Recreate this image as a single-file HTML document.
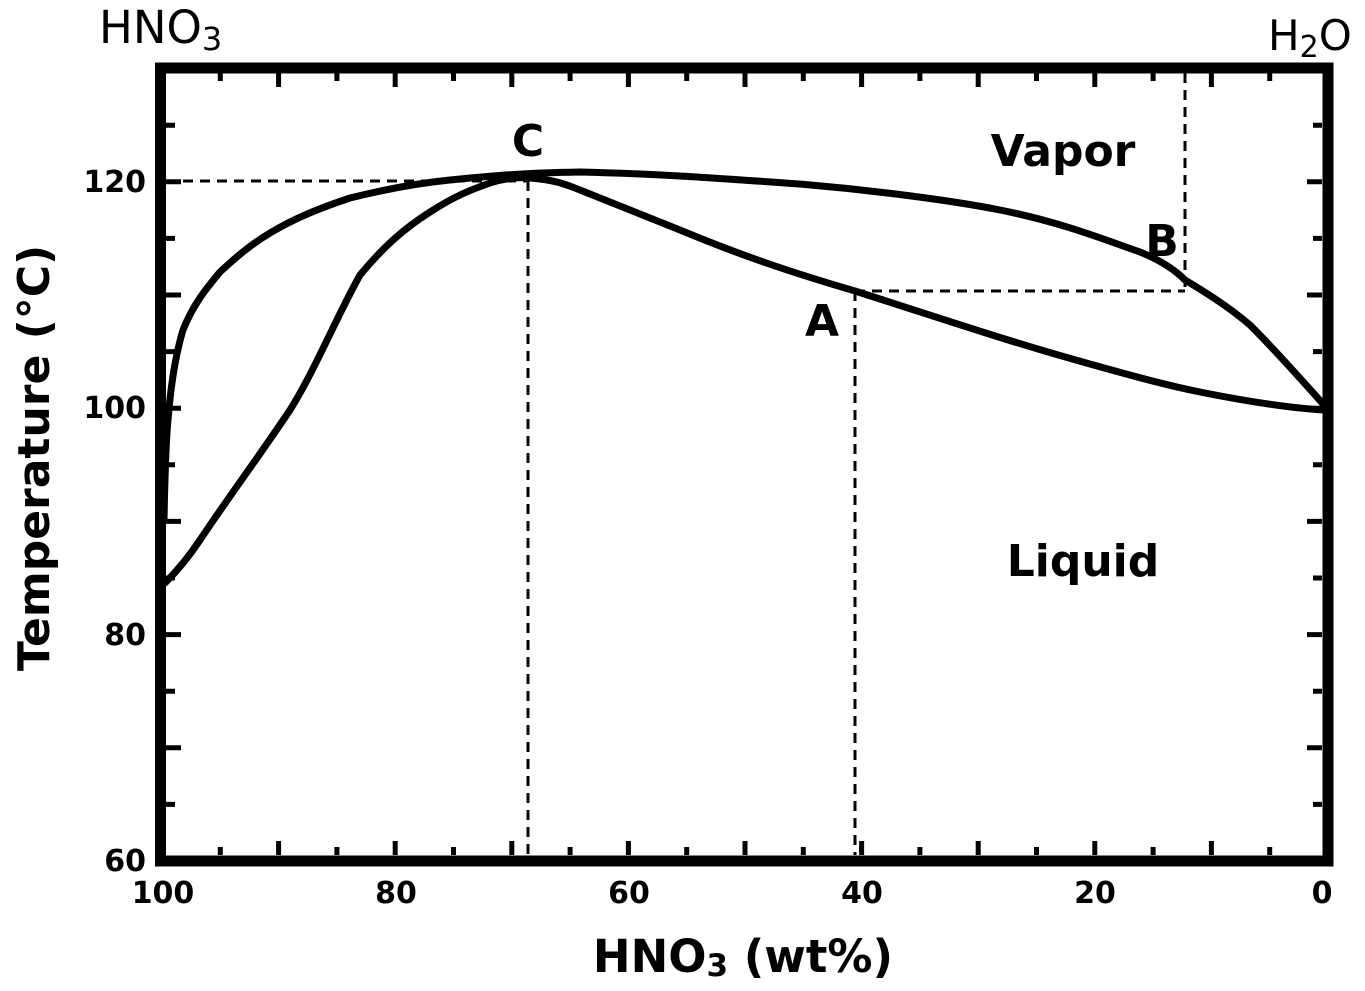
<!DOCTYPE html>
<html><head><meta charset="utf-8"><style>
html,body{margin:0;padding:0;background:#fff;}
svg{display:block;font-family:"DejaVu Sans","Liberation Sans",sans-serif;}
</style></head><body>
<svg width="1365" height="991" viewBox="0 0 1365 991" xmlns="http://www.w3.org/2000/svg">
<g stroke="#000" stroke-width="3" stroke-dasharray="10,7" fill="none">
<line x1="166" y1="181" x2="528" y2="181"/>
<line x1="528" y1="181" x2="528" y2="855"/>
<line x1="855" y1="291" x2="1185" y2="291"/>
<line x1="855" y1="291" x2="855" y2="855"/>
<line x1="1185" y1="73" x2="1185" y2="291"/>
</g>
<g stroke="#000" stroke-width="7" fill="none" stroke-linejoin="round" stroke-linecap="round">
<path d="M165,583 C180,568 190,555 200,540 C230,495 260,455 290,410 C315,370 335,320 360,275 C385,245 405,228 430,212 C455,196 470,190 490,183 C505,178 518,177 530,178 C555,180 565,184 580,190 C615,204 650,218 680,230 C740,255 790,272 855,291 C940,318 1010,342 1090,364 C1140,378 1170,386 1200,392 C1250,402 1290,408 1324,410"/>
<path d="M164,520 C165,470 166,440 168,420 C170,395 174,360 183,330 C193,305 205,290 220,272 C235,258 250,245 270,233 C295,218 320,208 350,198 C390,188 420,183 450,180 C490,176 520,173 580,172 C660,174 700,177 800,184 C870,190 950,200 1000,210 C1060,222 1100,238 1140,252 C1160,260 1175,270 1185,280 C1210,295 1230,308 1250,325 C1275,350 1300,378 1324,405"/>
</g>
<rect x="160.5" y="68" width="1167.5" height="793" fill="none" stroke="#000" stroke-width="11"/>
<path stroke="#000" stroke-width="5" fill="none" d="
M220.3,855v-8M278.6,855v-14M336.9,855v-8M395.2,855v-14M453.5,855v-8M511.8,855v-14M570.1,855v-8M628.4,855v-14M686.7,855v-8M745,855v-14M803.3,855v-8M861.6,855v-14M919.9,855v-8M978.2,855v-14M1036.5,855v-8M1094.8,855v-14M1153.1,855v-8M1211.4,855v-14M1269.7,855v-8
M220.3,73v8M278.6,73v14M336.9,73v8M395.2,73v14M453.5,73v8M511.8,73v14M570.1,73v8M628.4,73v14M686.7,73v8M745,73v14M803.3,73v8M861.6,73v14M919.9,73v8M978.2,73v14M1036.5,73v8M1094.8,73v14M1153.1,73v8M1211.4,73v14M1269.7,73v8
M166,804.4h9M166,747.8h15M166,691.2h9M166,634.6h15M166,578h9M166,521.4h15M166,464.8h9M166,408.2h15M166,351.6h9M166,295h15M166,238.4h9M166,181.8h15M166,125.2h9
M1322,804.4h-9M1322,747.8h-15M1322,691.2h-9M1322,634.6h-15M1322,578h-9M1322,521.4h-15M1322,464.8h-9M1322,408.2h-15M1322,351.6h-9M1322,295h-15M1322,238.4h-9M1322,181.8h-15M1322,125.2h-9"/>
<g font-weight="bold" font-size="30" text-anchor="middle" fill="#000">
<text x="163" y="903">100</text><text x="396" y="903">80</text><text x="629" y="903">60</text><text x="862" y="903">40</text><text x="1095" y="903">20</text><text x="1322" y="903">0</text>
</g>
<g font-weight="bold" font-size="30" text-anchor="end" fill="#000">
<text x="146" y="192">120</text><text x="146" y="418">100</text><text x="146" y="645">80</text><text x="146" y="871">60</text>
</g>
<text x="743" y="972" font-weight="bold" font-size="45" text-anchor="middle">HNO<tspan font-size="31" dy="4">3</tspan><tspan dy="-4"> (wt%)</tspan></text>
<text transform="translate(49,458) rotate(-90)" font-weight="bold" font-size="44" text-anchor="middle">Temperature (°C)</text>
<text x="99" y="43" font-size="45">HNO<tspan font-size="32" dy="7">3</tspan></text>
<text x="1268" y="50" font-size="42">H<tspan font-size="30" dy="7">2</tspan><tspan dy="-7">O</tspan></text>
<g font-weight="bold" font-size="44" text-anchor="middle">
<text x="528" y="156">C</text><text x="1063" y="166">Vapor</text><text x="1162" y="256">B</text><text x="822" y="336">A</text><text x="1083" y="576">Liquid</text>
</g>
</svg>
</body></html>
